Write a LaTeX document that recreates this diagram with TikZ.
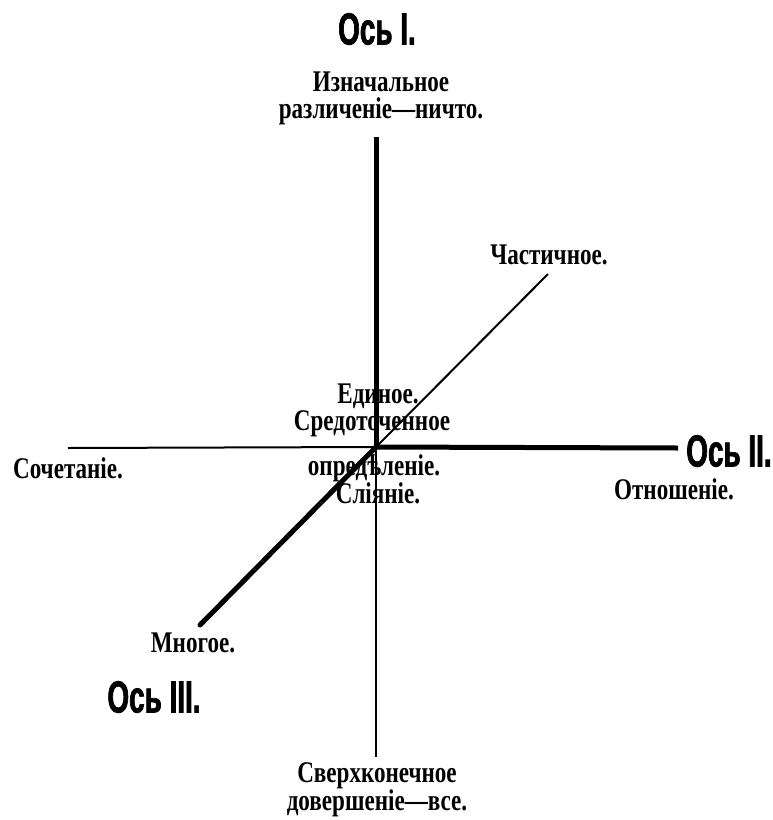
\documentclass[tikz,border=0pt]{standalone}
\usepackage{fontspec}
\setmainfont{Liberation Serif}
\newfontfamily\lblfont[FakeStretch=0.77]{Liberation Serif}
\newfontfamily\axfont[FakeStretch=0.62,FakeBold=1.5]{Liberation Sans}
\tikzset{
  lbl/.style={font=\lblfont\bfseries\fontsize{30}{27}\selectfont, inner sep=0pt, align=center},
  axlbl/.style={font=\axfont\bfseries\fontsize{45}{45}\selectfont, inner sep=0pt},
  thinaxis/.style={line width=2pt, black},
  heavyaxis/.style={line width=5pt, black},
}
\begin{document}
\begin{tikzpicture}[x=1pt,y=-1pt]
\useasboundingbox (0,0) rectangle (773,820);
% axes geometry
\coordinate (O) at (376,447);
\coordinate (top) at (376,137);
\coordinate (bot) at (376,757);
\coordinate (left) at (68,448);
\coordinate (right) at (678,448);
\coordinate (ne) at (548,274);
\coordinate (sw) at (200,625);
\draw[thinaxis] (left) -- (O);
\draw[heavyaxis] (O) -- (right);
\draw[heavyaxis] (top) -- (O);
\draw[thinaxis] (O) -- (bot);
\draw[thinaxis] (O) -- (ne);
\draw[heavyaxis, line cap=round] (O) -- (sw);
% labels
\node[axlbl] (ax1) at (377,29) {Ось I.};
\node[axlbl] (ax2) at (729,451) {Ось II.};
\node[axlbl] (ax3) at (154,697) {Ось III.};
\node[lbl] (nichto) at (381,98) {Изначальное\\различеніе—ничто.};
\node[lbl] (chast) at (549,255) {Частичное.};
\node[lbl] (edin) at (378,396) {Единое.};
\node[lbl] (sredo) at (372,424) {Средоточенное};
\node[lbl] (opred) at (374,468) {опредѣленіе.};
\node[lbl] (sliyan) at (378,493) {Сліяніе.};
\node[lbl] (sochet) at (68,468) {Сочетаніе.};
\node[lbl] (otnosh) at (674,489) {Отношеніе.};
\node[lbl] (mnogoe) at (193,643) {Многое.};
\node[lbl] (vse) at (377,790) {Сверхконечное\\довершеніе—все.};
\end{tikzpicture}
\end{document}
